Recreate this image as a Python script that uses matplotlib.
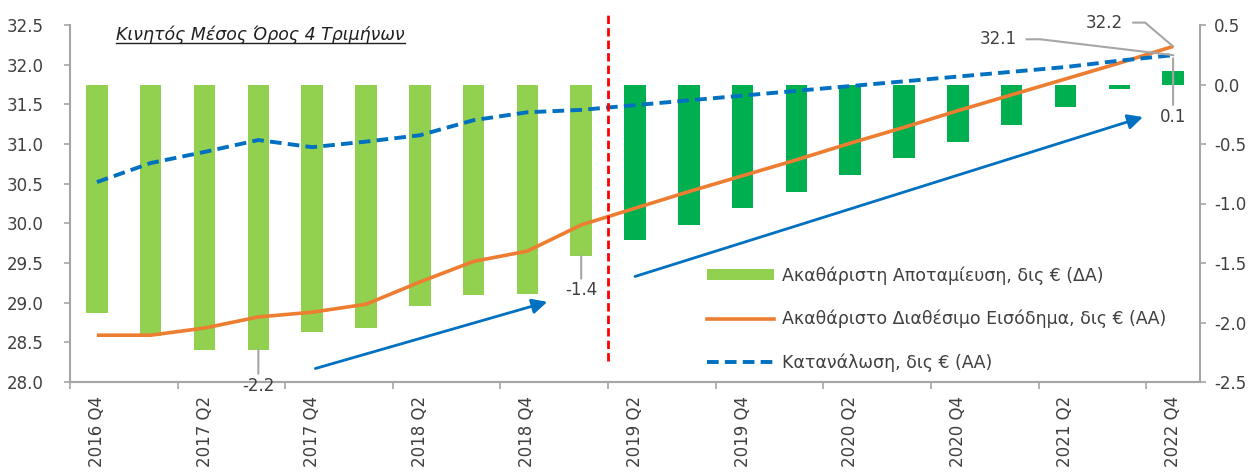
import matplotlib
matplotlib.use("Agg")
import matplotlib.pyplot as plt
from matplotlib.lines import Line2D
from matplotlib.patches import Patch
import numpy as np

plt.rcParams['font.family'] = ['DejaVu Sans']

# ---- data ----
quarters = ["2016 Q4", "2017 Q1", "2017 Q2", "2017 Q3", "2017 Q4", "2018 Q1", "2018 Q2",
            "2018 Q3", "2018 Q4", "2019 Q1", "2019 Q2", "2019 Q3", "2019 Q4", "2020 Q1",
            "2020 Q2", "2020 Q3", "2020 Q4", "2021 Q1", "2021 Q2", "2021 Q3", "2022 Q4"]
savings = [-1.92, -2.11, -2.23, -2.23, -2.08, -2.05, -1.86, -1.77, -1.76, -1.44,
           -1.31, -1.18, -1.04, -0.90, -0.76, -0.62, -0.48, -0.34, -0.19, -0.04, 0.11]
income = [28.59, 28.59, 28.68, 28.82, 28.88, 28.98, 29.26, 29.52, 29.65, 29.98,
          30.19, 30.40, 30.60, 30.80, 31.01, 31.21, 31.42, 31.62, 31.82, 32.02, 32.23]
consumption = [30.52, 30.76, 30.90, 31.05, 30.96, 31.03, 31.11, 31.30, 31.40, 31.43,
               31.49, 31.55, 31.61, 31.67, 31.73, 31.79, 31.85, 31.91, 31.97, 32.05, 32.12]
n_history = 10   # light green bars before the split

lbl_sav = "Ακαθάριστη Αποταμίευση, δις € (ΔΑ)"
lbl_inc = "Ακαθάριστο Διαθέσιμο Εισόδημα, δις € (ΑΑ)"
lbl_con = "Κατανάλωση, δις € (ΑΑ)"
title = "Κινητός Μέσος Όρος 4 Τριμήνων"

LGREEN = "#92D050"
DGREEN = "#00B050"
ORANGE = "#ED7D31"
BLUE = "#0070C0"
GRAY = "#A6A6A6"
TXT = "#404040"

fig = plt.figure(figsize=(12.53, 4.72), dpi=100)
ax = fig.add_axes([70/1253, 1-382/472, 1130/1253, 357/472])
ax2 = ax.twinx()

x = np.arange(len(quarters))
colors = [LGREEN if i < n_history else DGREEN for i in x]
ax2.bar(x, savings, width=0.4, color=colors, zorder=2)

ax.plot(x, income, color=ORANGE, lw=2.6, solid_capstyle='butt', zorder=3)
ax.plot(x, consumption, color=BLUE, lw=2.8, dashes=(3, 1.6), zorder=4)

# lines above bars
ax.set_zorder(ax2.get_zorder() + 1)
ax.patch.set_visible(False)

ax.set_xlim(-0.5, len(quarters) - 0.5)
ax.set_ylim(28.0, 32.5)
ax2.set_ylim(-2.5, 0.5)
ax.set_yticks(np.arange(28.0, 32.51, 0.5))
ax2.set_yticks(np.arange(-2.5, 0.51, 0.5))
ax.yaxis.set_major_formatter(matplotlib.ticker.FormatStrFormatter('%.1f'))
ax2.yaxis.set_major_formatter(matplotlib.ticker.FormatStrFormatter('%.1f'))

# x labels every second quarter, tick marks at category borders
ax.set_xticks(x[::2])
ax.set_xticklabels(quarters[::2], rotation=90, fontsize=12, color=TXT)
ax.set_xticks(np.arange(-0.5, len(quarters), 2), minor=True)
ax.tick_params(axis='x', which='major', length=0, pad=10)
ax.tick_params(axis='x', which='minor', length=5, color=GRAY, width=1.2, direction='out')
ax.tick_params(axis='y', length=4, color=GRAY, width=1.2, labelsize=12, labelcolor=TXT, pad=15)
ax2.tick_params(axis='y', length=4, color=GRAY, width=1.2, labelsize=12, labelcolor=TXT, pad=6)

for a in (ax, ax2):
    a.spines['top'].set_visible(False)
    for s in ('left', 'right', 'bottom'):
        a.spines[s].set_color(GRAY)
        a.spines[s].set_linewidth(1.5)
ax2.spines['left'].set_visible(False)
ax.spines['right'].set_visible(False)

# red split line
ax.plot([n_history - 0.5, n_history - 0.5], [28.26, 32.63], color="#FF0000", lw=2,
        dashes=(3, 1.5), clip_on=False, zorder=5)

# trend arrows
arrow = dict(arrowstyle="-|>,head_length=0.9,head_width=0.45", color=BLUE, lw=2, shrinkA=0, shrinkB=0)
ax.annotate("", xy=(8.37, 29.01), xytext=(4.06, 28.17), arrowprops=arrow)
ax.annotate("", xy=(19.44, 31.34), xytext=(10.0, 29.33), arrowprops=arrow)

# data labels with leader lines (drawn in the top axes so they sit over the spine)
lead = dict(arrowstyle="-", color=GRAY, lw=1.5, shrinkA=0, shrinkB=0)
bar_tr = ax2.transData
i = 3
ax.annotate(f"{savings[i]:.1f}", xy=(i, savings[i]), xytext=(i, savings[i] - 0.30),
            xycoords=bar_tr, textcoords=bar_tr, annotation_clip=False,
            ha='center', va='center', fontsize=12, color=TXT, arrowprops=lead, zorder=7)
i = 9
ax.annotate(f"{savings[i]:.1f}", xy=(i, savings[i]), xytext=(i, savings[i] - 0.29),
            xycoords=bar_tr, textcoords=bar_tr, annotation_clip=False,
            ha='center', va='center', fontsize=12, color=TXT, arrowprops=lead, zorder=7)
i = 20
ax.annotate(f"{savings[i]:.1f}", xy=(i, savings[i] + 0.11), xytext=(i, -0.27),
            xycoords=bar_tr, textcoords=bar_tr, annotation_clip=False,
            ha='center', va='center', fontsize=12, color=TXT, arrowprops=lead, zorder=7)

# end labels of the two lines, with bent leader lines
ax.text(19.07, 32.53, f"{income[-1]:.1f}", ha='right', va='center', fontsize=12, color=TXT)
ax.plot([19.26, 19.48, 20], [32.53, 32.53, income[-1]], color=GRAY, lw=1.5,
        clip_on=False, zorder=6)
ax.text(17.1, 32.32, f"{consumption[-1]:.1f}", ha='right', va='center', fontsize=12, color=TXT)
ax.plot([17.28, 17.53, 20], [32.32, 32.32, consumption[-1]], color=GRAY, lw=1.5,
        clip_on=False, zorder=6)

# title inside the plot, italic and underlined
t = ax.text(0.0407, 0.972, title, transform=ax.transAxes, ha='left', va='center',
            fontsize=12.5, style='italic', color="#202020")
fig.canvas.draw()
bb = t.get_window_extent()
W, H = fig.get_size_inches() * fig.dpi
fig.add_artist(Line2D([bb.x0 / W, bb.x1 / W], [(bb.y0 + 1) / H] * 2, color="#202020", lw=1))

# legend
handles = [Patch(facecolor=LGREEN, edgecolor='none'),
           Line2D([], [], color=ORANGE, lw=2.6),
           Line2D([], [], color=BLUE, lw=2.8, dashes=(3, 1.6))]
leg = ax.legend(handles, [lbl_sav, lbl_inc, lbl_con], loc='upper left',
                bbox_to_anchor=(0.5556, 0.349), frameon=False, fontsize=12.5,
                handlelength=3.9, handleheight=0.55, labelspacing=1.45, handletextpad=0.46,
                borderpad=0)
for txt in leg.get_texts():
    txt.set_color(TXT)

fig.savefig("out.png", dpi=100)
